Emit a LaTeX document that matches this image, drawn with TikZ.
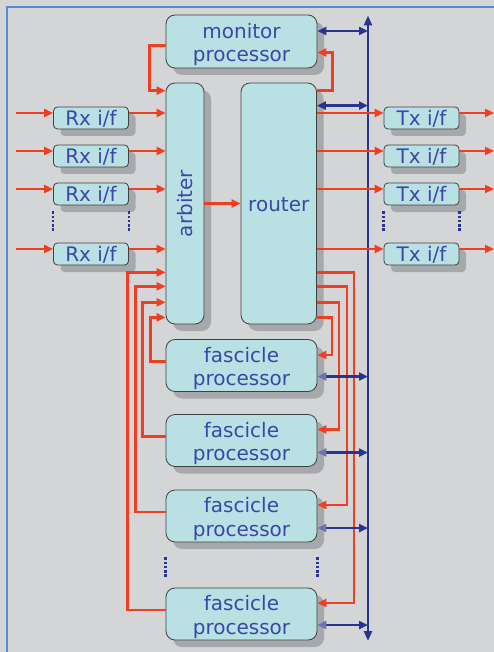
\documentclass[tikz,border=0pt]{standalone}
\usepackage{fontspec}
\setmainfont{DejaVu Sans}
\usetikzlibrary{arrows.meta,calc}
\definecolor{bgcol}{HTML}{D4D5D7}
\definecolor{framecol}{HTML}{4F8FCB}
\definecolor{boxfill}{HTML}{B9E1E4}
\definecolor{shade}{HTML}{A7A8AB}
\definecolor{txt}{HTML}{3A47A6}
\definecolor{sigred}{HTML}{F03E23}
\definecolor{busblue}{HTML}{2B3391}
\definecolor{tiplight}{HTML}{6C72B4}
\begin{document}
\begin{tikzpicture}[x=1pt,y=-1pt,
  lbl/.style={text=txt, font=\fontsize{20}{23.5}\selectfont, align=center, inner sep=0pt},
  box/.style={lbl, draw=black!75, line width=0.8pt, fill=boxfill, rounded corners=9pt,
    preaction={fill=shade, draw=none, transform canvas={shift={(7pt,-7pt)}}}},
  smallbox/.style={box, rounded corners=4pt, minimum width=75pt, minimum height=22pt, text depth=0pt},
  bigbox/.style={box, minimum width=151pt, minimum height=52pt},
  ra/.style={draw=sigred, line width=2.8pt, -{Triangle[length=9pt,width=8pt]}},
  ba/.style={draw=busblue, line width=2.5pt, {Triangle[length=9pt,width=8pt]}-{Triangle[length=9pt,width=8pt]}},
  fa/.style={draw=busblue, line width=2.5pt, {Triangle[length=9pt,width=8pt,color=tiplight]}-{Triangle[length=9pt,width=8pt]}},
  dotline/.style={draw=busblue, line width=2.5pt, dash pattern=on 2.5pt off 1.7pt}]
\useasboundingbox (0,0) rectangle (494,652);
\fill[bgcol] (0,0) rectangle (494,652);
\draw[framecol, line width=1.6pt] (7,652) -- (7,7) -- (494,7);

% bus
\coordinate (bustop) at (368,15.5);
\coordinate (busbot) at (368,641);
\draw[draw=busblue, line width=2.5pt, {Triangle[length=10pt,width=8pt]}-{Triangle[length=10pt,width=8pt]}] (busbot) -- (bustop);

% boxes
\node[bigbox, minimum height=53pt] (mon) at (241.5,41.5) {};
\node[lbl] (montxt) at ([yshift=-3pt]mon.center) {monitor\\processor};
\node[box, minimum width=38pt, minimum height=241pt] (arb) at (185,203.5) {};
\node[lbl, rotate=90] (arbtxt) at (arb.center) {arbiter};
\node[box, minimum width=75.5pt, minimum height=241pt] (rout) at (278.75,203.5) {};
\node[lbl] (routtxt) at ([yshift=-1.5pt]rout.center) {router};
\foreach \i/\y in {1/118,2/156,3/194,4/254} {
  \node[smallbox] (rx\i) at (91,\y) {Rx i/f};
  \node[smallbox] (tx\i) at (421.5,\y) {Tx i/f};
  \coordinate (in\i) at (16,\y-5);
  \coordinate (out\i) at (494,\y-5);
}
\foreach \i/\y in {1/365.5,2/440.5,3/516,4/614} {
  \node[bigbox] (f\i) at (241.5,\y) {};
  \node[lbl] (f\i txt) at ([yshift=-3pt]f\i.center) {fascicle\\processor};
}

% red links
\foreach \i in {1,...,4} {
  \draw[ra] (in\i) -- ([yshift=5pt]rx\i.west);
  \draw[ra] ([yshift=5pt]rx\i.east) -- ([yshift=5pt]rx\i.east -| arb.west);
  \draw[ra] ([yshift=5pt]tx\i.west -| rout.east) -- ([yshift=5pt]tx\i.west);
  \draw[ra] ([yshift=5pt]tx\i.east) -- (out\i);
}
\draw[ra] (arb.east) -- (arb.east -| rout.west);
\draw[ra] ([yshift=-4pt]mon.west) -- ++(-16,0) |- ([yshift=-8pt]arb.north west);
\draw[ra] ([yshift=-8pt]rout.north east) -- ++(15.5,0) |- ([yshift=-11pt]mon.east);

\draw[ra] ([yshift=4pt]f1.west) -- ++(-15,0) |- ([yshift=7pt]arb.south west);
\draw[ra] ([yshift=4pt]f2.west) -- ++(-23,0) |- ([yshift=22pt]arb.south west);
\draw[ra] ([yshift=4pt]f3.west) -- ++(-30,0) |- ([yshift=38pt]arb.south west);
\draw[ra] ([yshift=4pt]f4.west) -- ++(-38,0) |- ([yshift=52pt]arb.south west);

\draw[ra] ([yshift=7pt]rout.south east) -- ++(15,0) |- ([yshift=10.5pt]f1.east);
\draw[ra] ([yshift=22pt]rout.south east) -- ++(22,0) |- ([yshift=11pt]f2.east);
\draw[ra] ([yshift=38pt]rout.south east) -- ++(30,0) |- ([yshift=11pt]f3.east);
\draw[ra] ([yshift=52pt]rout.south east) -- ++(37,0) |- ([yshift=11pt]f4.east);

% blue links
\draw[ba] ([yshift=10.5pt]mon.east) -- ([yshift=10.5pt]mon.east -| bustop);
\draw[ba] ([yshift=-23pt]rout.north east) -- ([yshift=-23pt]rout.north east -| bustop);
\draw[fa] ([yshift=-11pt]f1.east) -- ([yshift=-11pt]f1.east -| bustop);
\draw[fa] ([yshift=-12pt]f2.east) -- ([yshift=-12pt]f2.east -| bustop);
\draw[fa] ([yshift=-12pt]f3.east) -- ([yshift=-12pt]f3.east -| bustop);
\draw[fa] ([yshift=-11pt]f4.east) -- ([yshift=-11pt]f4.east -| bustop);

% dots
\draw[dotline] ($(rx3.south west)+(0,6)$) -- ($(rx3.south west)+(0,26)$);
\draw[dotline] ($(rx3.south east)+(0,6)$) -- ($(rx3.south east)+(0,26)$);
\draw[dotline] ($(tx3.south west)+(0,6)$) -- ($(tx3.south west)+(0,26)$);
\draw[dotline] ($(tx3.south east)+(0,6)$) -- ($(tx3.south east)+(0,26)$);
\draw[dotline] ($(f3.south west)+(0,15)$) -- ($(f3.south west)+(0,35)$);
\draw[dotline] ($(f3.south east)+(0,15)$) -- ($(f3.south east)+(0,35)$);
\end{tikzpicture}
\end{document}
